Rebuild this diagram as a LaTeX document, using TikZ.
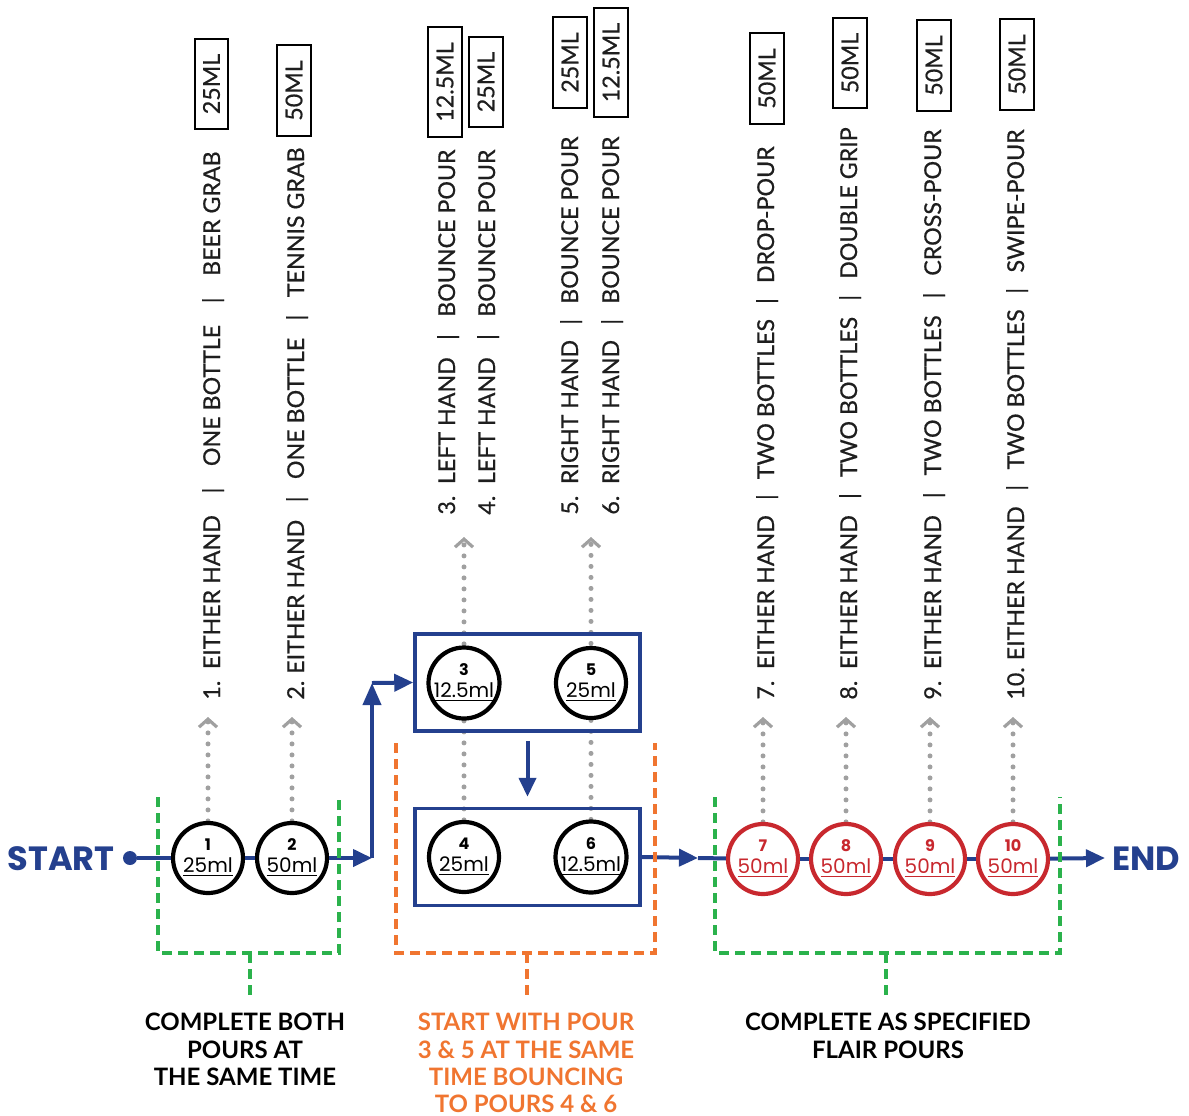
\documentclass[tikz,border=0pt]{standalone}
\usepackage{fontspec}
\setmainfont{Lato}
\newfontfamily\popfont{Poppins}
\newfontfamily\stepfont[FakeBold=0.6]{Lato}
\usetikzlibrary{arrows.meta,backgrounds}
\definecolor{flowblue}{RGB}{36,64,142}
\definecolor{pourred}{RGB}{200,40,46}
\definecolor{brgreen}{RGB}{43,178,76}
\definecolor{brorange}{RGB}{240,117,48}
\definecolor{dotgrey}{RGB}{160,160,160}
\definecolor{inkgrey}{RGB}{30,30,30}
\tikzset{
  flow/.style={draw=flowblue, line width=2pt},
  flowarrow/.style={flow, -{Triangle[length=9.5pt,width=8.5pt]}},
  pourc/.style={circle, draw=black, line width=2.1pt, fill=white, minimum size=35pt, inner sep=0pt, align=center, font=\popfont\fontsize{10}{11}\selectfont},
  flairc/.style={pourc, draw=pourred, text=pourred},
  stagebox/.style={draw=flowblue, line width=1.75pt, minimum width=112.5pt, minimum height=48.5pt, inner sep=0pt},
  guide/.style={draw=dotgrey, line width=2.5pt, line cap=round, dash pattern=on 0pt off 5.5pt, -{Straight Barb[length=4pt,width=9pt,line width=1.6pt]}},
  steptext/.style={rotate=90, anchor=base west, inner sep=0pt, font=\stepfont\fontsize{11.6}{12}\selectfont, text=inkgrey},
  mlbox/.style={rotate=90, draw=black, line width=1pt, inner xsep=7.5pt, inner ysep=4.2pt, font=\stepfont\fontsize{11.6}{12}\selectfont, text=inkgrey},
  greenbr/.style={draw=brgreen, line width=1.6pt, dash pattern=on 5pt off 3pt},
  orangebr/.style={greenbr, draw=brorange},
  notetext/.style={align=center, anchor=north, inner sep=0pt, font=\bfseries\fontsize{12}{13.6}\selectfont},
}
\newcommand{\pournum}[2]{{\bfseries\fontsize{8}{8.5}\selectfont #1}\\[0pt]\underline{#2}}
\begin{document}
\begin{tikzpicture}[x=0.5pt,y=-0.5pt]
\useasboundingbox (0,0) rectangle (1189,1115);

% start / end
\node[circle, fill=flowblue, minimum size=7pt, inner sep=0pt] (sdot) at (130,858) {};
\node[anchor=east, inner sep=0pt, text=flowblue, font=\popfont\bfseries\fontsize{16.8}{17}\selectfont] (start) at (115,859) {START};
\node[anchor=west, inner sep=0pt, text=flowblue, font=\popfont\bfseries\fontsize{16.8}{17}\selectfont] (end) at (1112,859) {END};

% stage boxes
\node[stagebox] (box1) at (527.5,682.5) {};
\node[stagebox] (box2) at (527.5,857) {};

% circles
\node[pourc] (c1) at (208,858) {\pournum{1}{25ml}};
\node[pourc] (c2) at (292,858) {\pournum{2}{50ml}};
\node[pourc] (c3) at (464,683) {\pournum{3}{12.5ml}};
\node[pourc] (c5) at (591,683) {\pournum{5}{25ml}};
\node[pourc] (c4) at (464,857) {\pournum{4}{25ml}};
\node[pourc] (c6) at (591,857) {\pournum{6}{12.5ml}};
\node[flairc] (c7) at (763,859) {\pournum{7}{50ml}};
\node[flairc] (c8) at (846,859) {\pournum{8}{50ml}};
\node[flairc] (c9) at (930,859) {\pournum{9}{50ml}};
\node[flairc] (c10) at (1013,859) {\pournum{10}{50ml}};

% coordinates
\coordinate (turnA) at (372,858);
\coordinate (turnB) at (372,683);
\coordinate (midtip) at (698,858);
\coordinate (endtip) at (1105,858);
\coordinate (g1) at (208,717);
\coordinate (g2) at (292,717);
\coordinate (g3) at (464,537);
\coordinate (g5) at (591,537);
\coordinate (g7) at (763,717);
\coordinate (g8) at (846,717);
\coordinate (g9) at (930,717);
\coordinate (g10) at (1013,717);

% dotted guides
\begin{pgfonlayer}{background}
\draw[guide] (c1.north) -- (g1);
\draw[guide] (c2.north) -- (g2);
\draw[guide] (c4.north) -- (g3);
\draw[guide] (c6.north) -- (g5);
\draw[guide] (c7.north) -- (g7);
\draw[guide] (c8.north) -- (g8);
\draw[guide] (c9.north) -- (g9);
\draw[guide] (c10.north) -- (g10);
\end{pgfonlayer}

% flow
\draw[flow] (sdot) -- (c1);
\draw[flow] (c1) -- (c2);
\draw[flowarrow] (c2) -- (turnA);
\draw[flowarrow, -{Triangle[length=11pt,width=9pt]}] (turnA) -- (turnB);
\draw[flowarrow] (turnB) -- (box1.west);
\draw[flowarrow, shorten <=4pt, shorten >=5pt] (box1.south) -- (box2.north);
\draw[flowarrow] (box2.east) -- (midtip);
\draw[flow] (midtip) -- (c7);
\draw[flow] (c7) -- (c8);
\draw[flow] (c8) -- (c9);
\draw[flow] (c9) -- (c10);
\draw[flowarrow] (c10) -- (endtip);

% vertical step texts
\node[steptext] (t1) at (220,700) {\makebox[274pt][l]{1.\hspace{0.5em}EITHER HAND\hfill|\hfill ONE BOTTLE\hfill|\hfill BEER GRAB}};
\node[steptext] (t2) at (304,700) {\makebox[276pt][l]{2.\hspace{0.3em}EITHER HAND\hfill|\hfill ONE BOTTLE\hfill|\hfill TENNIS GRAB}};
\node[steptext] (t3) at (455,515) {\makebox[182.5pt][l]{3.\hspace{0.5em}LEFT HAND\hfill|\hfill BOUNCE POUR}};
\node[steptext] (t4) at (495,515) {\makebox[182.5pt][l]{4.\hspace{0.5em}LEFT HAND\hfill|\hfill BOUNCE POUR}};
\node[steptext] (t5) at (578,515) {\makebox[189pt][l]{5.\hspace{0.5em}RIGHT HAND\hfill|\hfill BOUNCE POUR}};
\node[steptext] (t6) at (619,515) {\makebox[189pt][l]{6.\hspace{0.5em}RIGHT HAND\hfill|\hfill BOUNCE POUR}};
\node[steptext] (t7) at (774,700) {\makebox[276.5pt][l]{7.\hspace{0.5em}EITHER HAND\hfill|\hfill TWO BOTTLES\hfill|\hfill DROP-POUR}};
\node[steptext] (t8) at (857,700) {\makebox[286pt][l]{8.\hspace{0.5em}EITHER HAND\hfill|\hfill TWO BOTTLES\hfill|\hfill DOUBLE GRIP}};
\node[steptext] (t9) at (941,700) {\makebox[285pt][l]{9.\hspace{0.5em}EITHER HAND\hfill|\hfill TWO BOTTLES\hfill|\hfill CROSS-POUR}};
\node[steptext] (t10) at (1024,700) {\makebox[285pt][l]{10.\hspace{0.3em}EITHER HAND\hfill|\hfill TWO BOTTLES\hfill|\hfill SWIPE-POUR}};

% volume boxes
\node[mlbox] (m1) at (211.5,84) {25ML};
\node[mlbox] (m2) at (294,90.5) {50ML};
\node[mlbox] (m3) at (445,82) {12.5ML};
\node[mlbox] (m4) at (486,82) {25ML};
\node[mlbox] (m5) at (570,62.5) {25ML};
\node[mlbox] (m6) at (611,62.5) {12.5ML};
\node[mlbox] (m7) at (767,78.5) {50ML};
\node[mlbox] (m8) at (850,63) {50ML};
\node[mlbox] (m9) at (934,65.5) {50ML};
\node[mlbox] (m10) at (1017,64.5) {50ML};

% brackets
\draw[greenbr] (158,797) -- (158,953) -- (339,953) -- (339,797);
\draw[greenbr] (250,953) -- (250,997);
\draw[orangebr] (396,743) -- (396,953) -- (655,953) -- (655,743);
\draw[orangebr] (527,953) -- (527,997);
\draw[greenbr] (715,797) -- (715,953) -- (1060,953) -- (1060,797);
\draw[greenbr] (886,953) -- (886,997);

% notes
\node[notetext] (n1) at (245,1013) {COMPLETE BOTH\\POURS AT\\THE SAME TIME};
\node[notetext, text=brorange] (n2) at (526,1013) {START WITH POUR\\3 \& 5 AT THE SAME\\TIME BOUNCING\\TO POURS 4 \& 6};
\node[notetext] (n3) at (888,1013) {COMPLETE AS SPECIFIED\\FLAIR POURS};
\end{tikzpicture}
\end{document}
